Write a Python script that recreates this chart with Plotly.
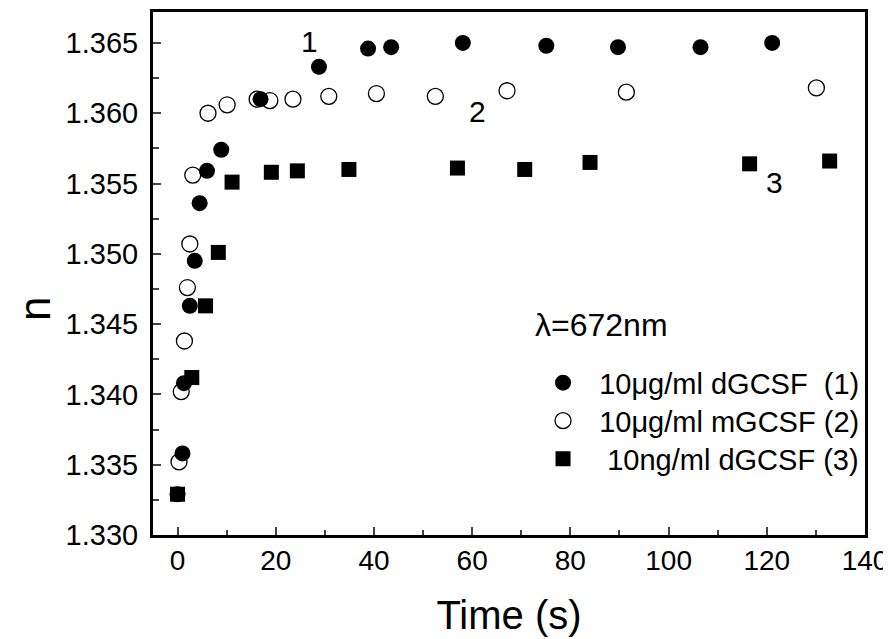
import plotly.graph_objects as go

# Series 1: 10 µg/ml dGCSF (filled circles)
t1 = [0, 1.0, 1.3, 2.5, 3.5, 4.5, 6.0, 8.9, 16.9, 28.8, 38.8, 43.5, 58.1, 75.1, 89.7, 106.5, 121.1]
n1 = [1.3329, 1.3358, 1.3408, 1.3463, 1.3495, 1.3536, 1.3559, 1.3574, 1.3610, 1.3633,
      1.3646, 1.3647, 1.3650, 1.3648, 1.3647, 1.3647, 1.3650]

# Series 2: 10 µg/ml mGCSF (open circles)
t2 = [0.3, 0.75, 1.4, 2.0, 2.5, 3.1, 6.2, 10.1, 16.2, 18.8, 23.5, 30.8, 40.5, 52.5, 67.1, 91.4, 130.1]
n2 = [1.3352, 1.3402, 1.3438, 1.3476, 1.3507, 1.3556, 1.3600, 1.3606, 1.3610, 1.3609,
      1.3610, 1.3612, 1.3614, 1.3612, 1.3616, 1.3615, 1.3618]

# Series 3: 10 ng/ml dGCSF (filled squares)
t3 = [0, 2.9, 5.7, 8.3, 11.1, 19.1, 24.4, 34.9, 57.0, 70.7, 84.0, 116.5, 132.8]
n3 = [1.3329, 1.3412, 1.3463, 1.3501, 1.3551, 1.3558, 1.3559, 1.3560, 1.3561, 1.3560,
      1.3565, 1.3564, 1.3566]

names = ["\u00a0\u00a010\u03bcg/ml dGCSF  (1)",
         "\u00a0\u00a010\u03bcg/ml mGCSF (2)",
         "\u00a0\u00a0\u00a010ng/ml dGCSF (3)"]

# curve labels
lab_text = ["1", "2", "3"]
lab_x = [26.9, 61.1, 121.6]
lab_y = [1.3651, 1.3601, 1.3551]

x_ticks = [0, 20, 40, 60, 80, 100, 120, 140]
y_ticks = [1.330, 1.335, 1.340, 1.345, 1.350, 1.355, 1.360, 1.365]

FONT = "Liberation Sans, Arial, sans-serif"

# figure size leaves room for the page's default 8px body margin
W, H = 883, 631
ML, MR, MT, MB = 145, 26, 4, 104
PW, PH = W - ML - MR, H - MT - MB

fig = go.Figure()
fig.add_trace(go.Scatter(x=t1, y=n1, mode="markers", name=names[0], legend="legend",
                         marker=dict(symbol="circle", size=16, color="black")))
fig.add_trace(go.Scatter(x=t2, y=n2, mode="markers", name=names[1], legend="legend2",
                         marker=dict(symbol="circle-open", size=16, color="black",
                                     line=dict(width=1.3, color="black"))))
fig.add_trace(go.Scatter(x=t3, y=n3, mode="markers", name=names[2], legend="legend3",
                         marker=dict(symbol="square", size=15, color="black")))
# keep the filled circles drawn on top of the open ones
fig.data = (fig.data[1], fig.data[2], fig.data[0])

for t, x, y in zip(lab_text, lab_x, lab_y):
    fig.add_annotation(x=x, y=y, text=t, showarrow=False, xref="x", yref="y",
                       font=dict(size=30, color="black", family=FONT))

fig.add_annotation(x=0.5337, y=0.4015, xref="paper", yref="paper", xanchor="left",
                   yanchor="middle", text="\u03bb=672nm", showarrow=False,
                   font=dict(size=32, color="black", family=FONT))

# y-axis title
fig.add_annotation(x=(26 - ML) / PW, y=(H - MB - 301) / PH, xref="paper", yref="paper",
                   text="n", showarrow=False, textangle=-90, xanchor="center",
                   yanchor="middle", font=dict(size=44, color="black", family=FONT))

leg_common = dict(xanchor="left", yanchor="top", bgcolor="rgba(0,0,0,0)",
                  font=dict(size=29, family=FONT, color="black"), itemwidth=30)
fig.update_layout(
    width=W, height=H,
    margin=dict(l=ML, r=MR, t=MT, b=MB),
    plot_bgcolor="white", paper_bgcolor="white",
    font=dict(family=FONT, color="black", size=28),
    legend=dict(x=0.5478, y=0.3398, **leg_common),
    legend2=dict(x=0.5478, y=0.2671, **leg_common),
    legend3=dict(x=0.5478, y=0.1945, **leg_common),
    showlegend=True,
)

fig.update_xaxes(range=[-5, 140], tickvals=x_ticks, ticks="inside", ticklen=8, tickwidth=2,
                 showline=True, linewidth=3, linecolor="black", mirror=True, showgrid=False,
                 zeroline=False, tickfont=dict(size=28), automargin=False,
                 ticklabelstandoff=-2,
                 minor=dict(dtick=10, ticks="inside", ticklen=5, tickwidth=2, showgrid=False),
                 title=dict(text="Time (s)", font=dict(size=40), standoff=27))
fig.update_yaxes(range=[1.330, 1.3672], tickvals=y_ticks, tickformat=".3f", ticks="inside",
                 ticklen=8, tickwidth=2, showline=True, linewidth=3, linecolor="black",
                 mirror=True, showgrid=False, zeroline=False, tickfont=dict(size=29),
                 automargin=False, ticklabelstandoff=6,
                 minor=dict(dtick=0.0025, tick0=1.33, ticks="inside", ticklen=6, tickwidth=2,
                            showgrid=False))

fig.write_html("out.html")
